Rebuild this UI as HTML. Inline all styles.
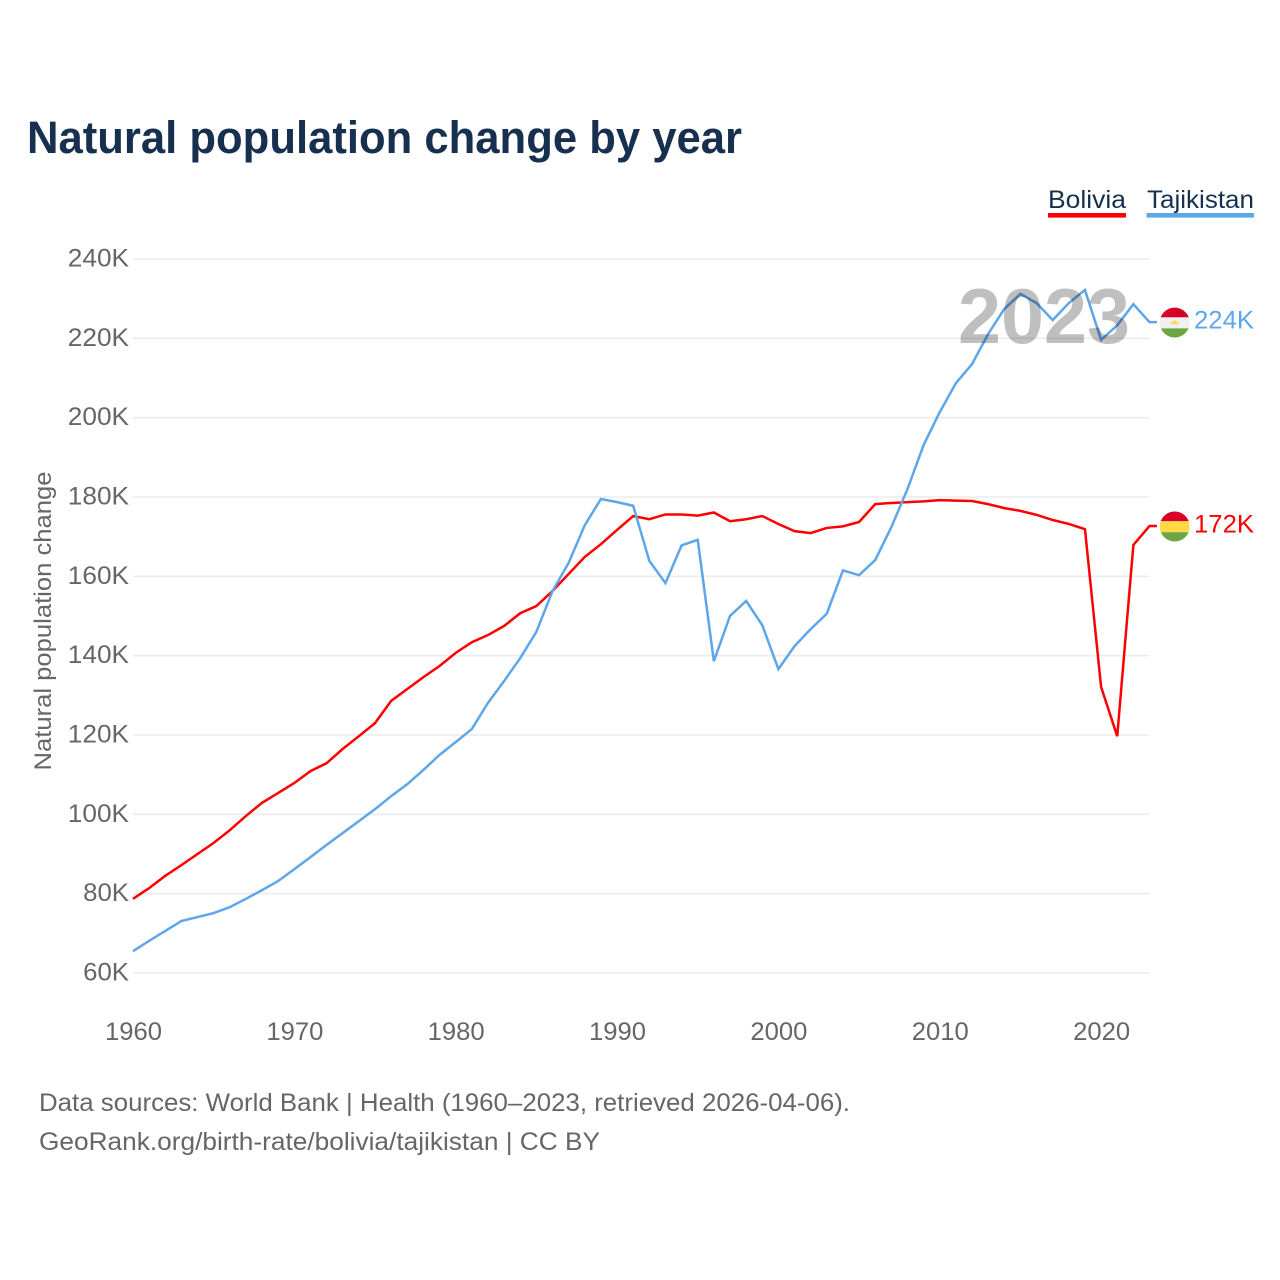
<!DOCTYPE html>
<html lang="en">
<head>
<meta charset="utf-8">
<title>Natural population change by year</title>
<style>
  html, body { margin: 0; padding: 0; background: #fff; }
  svg { display: block; font-family: "Liberation Sans", Arial, sans-serif; }
</style>
</head>
<body>
<svg id="chart" xmlns="http://www.w3.org/2000/svg" width="1280" height="1280" viewBox="0 0 1280 1280">
  <rect width="1280" height="1280" fill="#ffffff"/>
  <text x="27" y="153" font-size="45" font-weight="700" fill="#17304f" textLength="715" lengthAdjust="spacingAndGlyphs">Natural population change by year</text>

  <g>
    <g>
      <text x="1048" y="208" font-size="25" fill="#17304f" textLength="78" lengthAdjust="spacingAndGlyphs">Bolivia</text>
      <rect x="1048" y="213" width="78" height="4.6" fill="#ff0000"/>
    </g>
    <g>
      <text x="1147" y="208" font-size="25" fill="#17304f" textLength="107" lengthAdjust="spacingAndGlyphs">Tajikistan</text>
      <rect x="1146.5" y="213" width="107.5" height="4.6" fill="#5ea6ea"/>
    </g>
  </g>

  <g id="grid"></g>
  <g id="y-ticks"></g>
  <g id="x-ticks"></g>
  <text transform="translate(51 621) rotate(-90)" text-anchor="middle" font-size="24" fill="#666666" textLength="299" lengthAdjust="spacingAndGlyphs">Natural population change</text>
  <g id="series"></g>
  <text id="year-watermark" x="958" y="343" font-size="78" font-weight="700" fill="#000000" fill-opacity="0.25" textLength="172" lengthAdjust="spacingAndGlyphs">2023</text>
  <g id="end-markers"></g>

  <g>
    <text x="39" y="1111" font-size="25" fill="#666666" textLength="811" lengthAdjust="spacingAndGlyphs">Data sources: World Bank | Health (1960–2023, retrieved 2026-04-06).</text>
    <text x="39" y="1150" font-size="25" fill="#666666" textLength="561" lengthAdjust="spacingAndGlyphs">GeoRank.org/birth-rate/bolivia/tajikistan | CC BY</text>
  </g>
</svg>
<script>
const firstYear = 1960;
const lastYear = 2023;
const yTickValues = [60, 80, 100, 120, 140, 160, 180, 200, 220, 240];
const xTickYears = [1960, 1970, 1980, 1990, 2000, 2010, 2020];
const boliviaValues = [
  78.7, 81.4, 84.5, 87.2, 90, 92.8, 96, 99.6, 102.9, 105.4,
  107.9, 110.9, 112.9, 116.5, 119.7, 123, 128.6, 131.6, 134.6, 137.4,
  140.7, 143.4, 145.2, 147.5, 150.7, 152.5, 156.3, 160.6, 164.9, 168.1,
  171.7, 175.2, 174.4, 175.6, 175.6, 175.3, 176.1, 173.9, 174.4, 175.2,
  173.2, 171.4, 170.9, 172.2, 172.6, 173.7, 178.2, 178.5, 178.7, 178.9,
  179.2, 179.1, 179, 178.2, 177.2, 176.5, 175.5, 174.2, 173.2, 171.9,
  132.1, 119.7, 167.9, 172.7
];
const tajikistanValues = [
  65.5, 68.1, 70.6, 73.1, 74.1, 75.1, 76.6, 78.7, 80.9, 83.2,
  86.2, 89.2, 92.3, 95.3, 98.3, 101.3, 104.6, 107.6, 111.2, 115,
  118.2, 121.5, 128.1, 133.6, 139.4, 146, 156.3, 163.4, 172.9, 179.5,
  178.7, 177.8, 163.9, 158.3, 167.8, 169.2, 138.6, 150, 153.8, 147.7,
  136.6, 142.4, 146.7, 150.6, 161.5, 160.3, 164.1, 172.4, 182, 193.1,
  201.4, 208.7, 213.5, 221.1, 227.4, 231.2, 228.9, 224.6, 228.9, 232.2,
  219.6, 223.3, 228.6, 224.1
];
const boliviaEndLabel = "172K";
const tajikistanEndLabel = "224K";

const SVG_NS = "http://www.w3.org/2000/svg";
const plotLeft = 133;
const plotRight = 1149.5;
const y60 = 973;
const y240 = 259;

function xScale(year) {
  return plotLeft + (year - firstYear) * (plotRight - plotLeft) / (lastYear - firstYear);
}
function yScale(value) {
  return y60 + (value - 60) * (y240 - y60) / 180;
}
function make(tag, attrs, parent) {
  const el = document.createElementNS(SVG_NS, tag);
  for (const k in attrs) el.setAttribute(k, attrs[k]);
  parent.appendChild(el);
  return el;
}

const gridGroup = document.getElementById("grid");
const yTickGroup = document.getElementById("y-ticks");
const xTickGroup = document.getElementById("x-ticks");
const seriesGroup = document.getElementById("series");
const markerGroup = document.getElementById("end-markers");

yTickValues.forEach(function (v) {
  const line = make("line", { x1: plotLeft, x2: plotRight, y1: yScale(v), y2: yScale(v), stroke: "#ececec", "stroke-width": 1.6 }, gridGroup);
  
  
  const label = v + "K";
  const t = make("text", { x: 129, y: yScale(v) + 7.5, "text-anchor": "end", "font-size": 25, fill: "#666666", textLength: label.length * 15.3, lengthAdjust: "spacingAndGlyphs" }, yTickGroup);
  
  
  t.textContent = label;
});

xTickYears.forEach(function (year) {
  const t = make("text", { x: xScale(year) + 0.5, y: 1040, "text-anchor": "middle", "font-size": 25, fill: "#666666", textLength: 57, lengthAdjust: "spacingAndGlyphs" }, xTickGroup);
  
  
  t.textContent = String(year);
});

function drawSeries(values, color) {
  const pts = values.map(function (v, i) {
    return xScale(firstYear + i).toFixed(2) + "," + yScale(v).toFixed(2);
  });
  const endY = yScale(values[values.length - 1]).toFixed(2);
  pts.push("1157," + endY);
  return make("polyline", { points: pts.join(" "), fill: "none", stroke: color, "stroke-width": 2.5, "stroke-linejoin": "miter" }, seriesGroup);
}

const boliviaLine = drawSeries(boliviaValues, "#ff0000");


const tajikistanLine = drawSeries(tajikistanValues, "#5ea6ea");



function drawFlag(cy, clipId, colors, hasEmblem) {
  const g = make("g", {}, markerGroup);
  const cx = 1174.7, r = 15;
  const defs = make("defs", {}, g);
  const clip = make("clipPath", { id: clipId }, defs);
  make("circle", { cx: cx, cy: cy + 0.5, r: r }, clip);
  const stripes = make("g", { "clip-path": "url(#" + clipId + ")" }, g);
  make("rect", { x: cx - r, y: cy - r, width: 2 * r, height: 10.3, fill: colors[0] }, stripes);
  make("rect", { x: cx - r, y: cy - r + 10.3, width: 2 * r, height: 11, fill: colors[1] }, stripes);
  make("rect", { x: cx - r, y: cy - r + 21.3, width: 2 * r, height: 10, fill: colors[2] }, stripes);
  if (hasEmblem) {
    make("path", { d: "M" + (cx - 4) + " " + (cy + 2) + "h8l-1 -3l-1.5 1l-1.5 -2.5l-1.5 2.5l-1.5 -1z", fill: "#ffda44" }, stripes);
  }
  return g;
}

const boliviaEndY = yScale(boliviaValues[boliviaValues.length - 1]);
const tajikistanEndY = yScale(tajikistanValues[tajikistanValues.length - 1]);

const boliviaFlag = drawFlag(boliviaEndY, "clip-bolivia", ["#d80027", "#ffda44", "#6da544"], false);


const tajikistanFlag = drawFlag(tajikistanEndY, "clip-tajikistan", ["#d80027", "#f0f0f0", "#6da544"], true);



const boliviaValueLabel = make("text", { x: 1254, y: boliviaEndY + 6.5, "text-anchor": "end", "font-size": 25, fill: "#ff0000", textLength: 60, lengthAdjust: "spacingAndGlyphs" }, markerGroup);


boliviaValueLabel.textContent = boliviaEndLabel;

const tajikistanValueLabel = make("text", { x: 1254, y: tajikistanEndY + 6.5, "text-anchor": "end", "font-size": 25, fill: "#5ea6ea", textLength: 60, lengthAdjust: "spacingAndGlyphs" }, markerGroup);


tajikistanValueLabel.textContent = tajikistanEndLabel;
</script>
</body>
</html>
